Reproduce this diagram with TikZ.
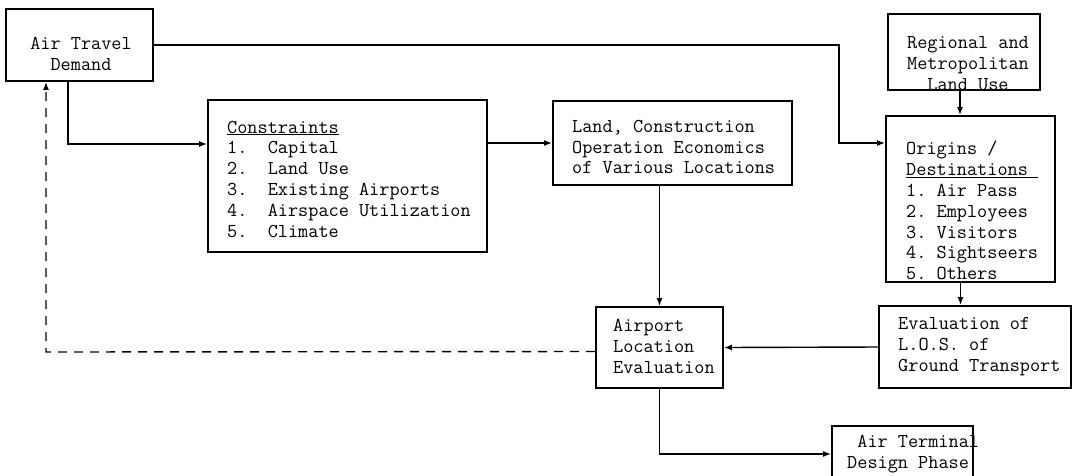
\documentclass[tikz,border=0pt]{standalone}
\usepackage{tikz}
\usetikzlibrary{arrows.meta}
\tikzset{>=latex}
\newcommand{\typewr}{\ttfamily\frenchspacing\fontsize{19.7}{20.8}\selectfont}
\tikzset{
  box/.style={draw, line width=1.8pt, inner sep=0pt},
  txt/.style={font=\typewr, inner sep=0pt},
  arr/.style={line width=1.4pt, -{Latex[length=8pt,width=6pt]}}
}

\begin{document}
\begin{tikzpicture}[x=1pt,y=-1pt]
\useasboundingbox (0,0) rectangle (1082,475);

% Boxes
\node[box, minimum width=147, minimum height=72] (demand) at (79.5,45) {};
\node[box, minimum width=279, minimum height=152] (constr) at (347.5,176) {};
\node[box, minimum width=239, minimum height=84] (land) at (672.5,143) {};
\node[box, minimum width=152, minimum height=76] (regional) at (964,52) {};
\node[box, minimum width=169, minimum height=166] (origins) at (970.5,199) {};
\node[box, minimum width=192, minimum height=82] (los) at (975,347) {};
\node[box, minimum width=127, minimum height=81] (airport) at (659.5,347.5) {};
\node[box, minimum width=141, minimum height=56] (terminal) at (902.5,454) {};

% Texts
\node[txt, align=center] (demandtxt) at (81,54) {Air Travel\\Demand};
\node[txt, align=left, anchor=west] (constrtxt) at (227,179)
  {\underline{Constraints}\\1.~~Capital\\2.~~Land Use\\3.~~Existing Airports\\4.~~Airspace Utilization\\5.~~Climate};
\node[txt, align=left, anchor=west] (landtxt) at (572,147)
  {Land, Construction\\Operation Economics\\of Various Locations};
\node[txt, align=center] (regtxt) at (968,63.5) {Regional and\\Metropolitan\\Land Use};
\node[txt, align=left, anchor=west] (origtxt) at (906,210.5)
  {Origins /\\\underline{Destinations~}\\1. Air Pass\\2. Employees\\3. Visitors\\4. Sightseers\\5. Others};
\node[txt, align=left, anchor=west] (lostxt) at (898,346.5)
  {Evaluation of\\L.O.S. of\\Ground Transport};
\node[txt, align=left, anchor=west] (airptxt) at (613,346.5)
  {Airport\\Location\\Evaluation};
\node[txt, align=left, anchor=west] (termtxt) at (847,454) {~Air Terminal\\Design Phase};

% Links
\coordinate (odturn) at (839,143);
\draw[arr] (demand.east) -| (odturn) -- (origins.west |- odturn);

\coordinate (dturn) at (68,144);
\draw[arr] (demand.south -| dturn) -- (dturn) -- (constr.west |- dturn);

\draw[arr] (constr.east |- land.west) -- (land.west);
\draw[arr] (land.south -| airport.north) -- (airport.north);

\draw[arr] ([xshift=-4]regional.south) -- ([xshift=-4]regional.south |- origins.north);
\draw[arr] ([xshift=-10]origins.south) -- ([xshift=-10]origins.south |- los.north);

\draw[arr] (los.west) -- (airport.east);

% Feedback
\coordinate (back) at (46,352);
\draw[arr, dash pattern=on 9pt off 7pt] ([yshift=-4]airport.west) -- (back) -- (demand.south -| back);

\draw[arr] (airport.south) |- (terminal.west);

\end{tikzpicture}
\end{document}
